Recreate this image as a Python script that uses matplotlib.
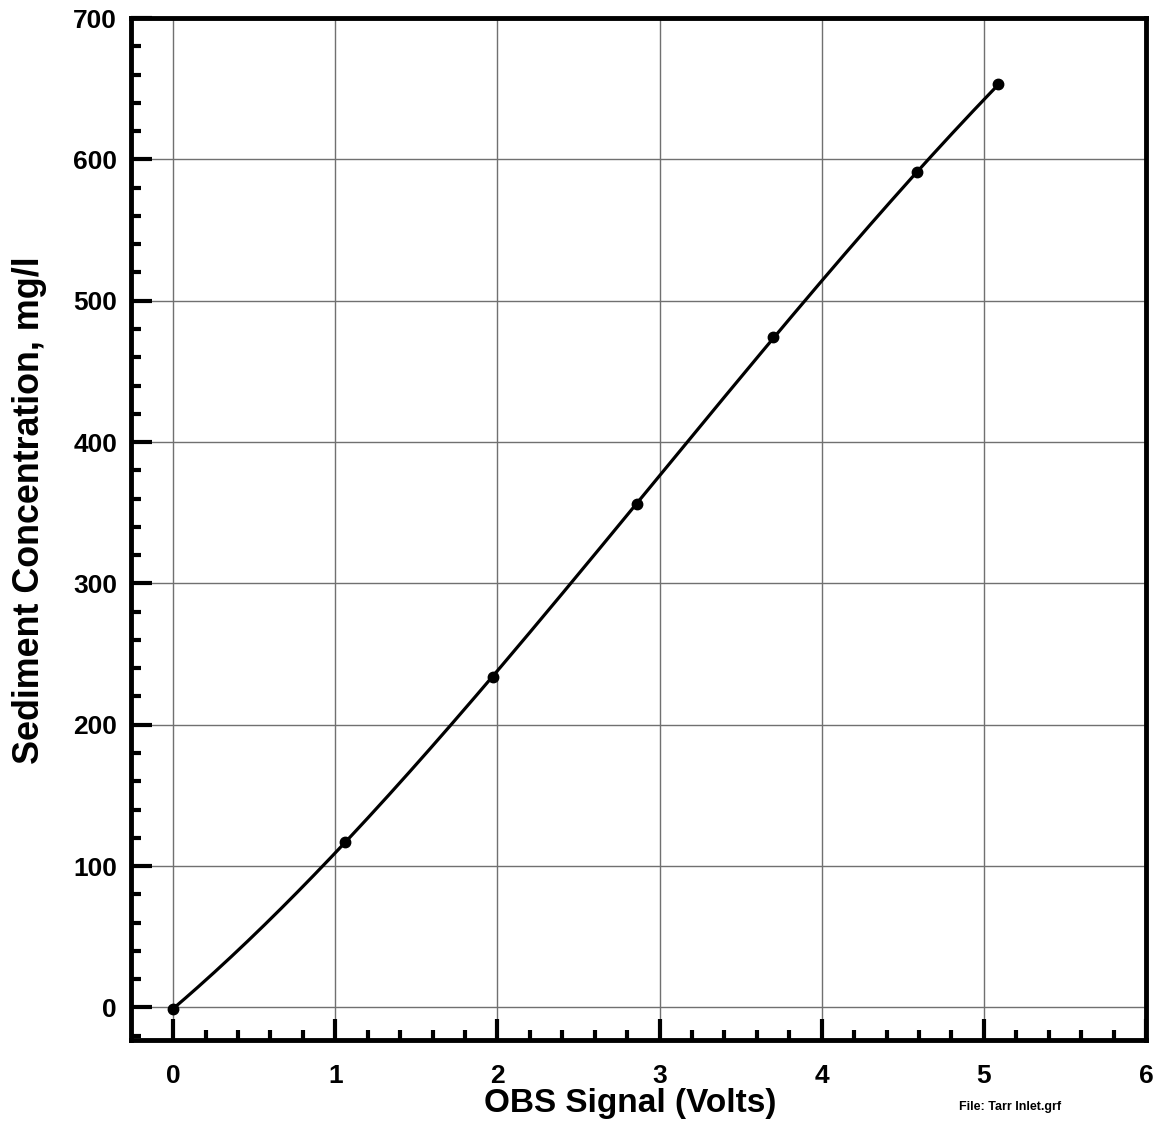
"""
OBS calibration curve: sediment concentration vs. OBS signal.
"""

import matplotlib.pyplot as plt
import matplotlib
import numpy as np

matplotlib.rcParams['font.family'] = ['Liberation Sans', 'DejaVu Sans']
matplotlib.rcParams['font.weight'] = 'bold'

# calibration samples
obs_volts = [0.0, 1.06, 1.97, 2.86, 3.70, 4.59, 5.09]
sediment_mgl = [-1, 117, 234, 356, 474, 591, 653]

x_ticks = [0, 1, 2, 3, 4, 5, 6]
y_ticks = [0, 100, 200, 300, 400, 500, 600, 700]

# third order calibration fit
coef = np.polyfit(obs_volts, sediment_mgl, 3)
xfit = np.linspace(0, max(obs_volts), 200)
yfit = np.polyval(coef, xfit)

fig = plt.figure(figsize=(11.64, 11.25), dpi=100)
ax = fig.add_axes([0.1125, 0.0756, 0.872, 0.9084])

ax.plot(xfit, yfit, color='black', linewidth=2.3, zorder=3)
ax.plot(obs_volts, sediment_mgl, 'o', color='black', markersize=7.5, zorder=4)

ax.set_xlim(-0.26, 6)
ax.set_ylim(-23, 700)
ax.set_xticks(x_ticks)
ax.set_yticks(y_ticks)
ax.set_xticks(np.arange(0, 6, 0.2), minor=True)
ax.set_yticks(np.arange(-20, 700, 20), minor=True)

ax.grid(True, which='major', color='#707070', linewidth=1)
ax.set_axisbelow(True)

for s in ax.spines.values():
    s.set_linewidth(3.5)

ax.tick_params(which='both', direction='in', top=False, right=False, width=3)
ax.tick_params(which='major', length=15, labelsize=19, pad=17)
ax.tick_params(which='minor', length=7.5)
ax.tick_params(axis='y', which='major', pad=10)

ax.set_xlabel('OBS Signal (Volts)', fontsize=24, fontweight='bold')
ax.set_ylabel('Sediment Concentration, mg/l', fontsize=25.8, fontweight='bold')
ax.xaxis.set_label_coords(0.4916, -0.047)
ax.yaxis.set_label_coords(-0.083, 0.5186)

fig.text(0.868, 0.016, 'File: Tarr Inlet.grf', fontsize=9, fontweight='bold',
         ha='center', va='center')

plt.savefig('out.png', dpi=100)
plt.close()
